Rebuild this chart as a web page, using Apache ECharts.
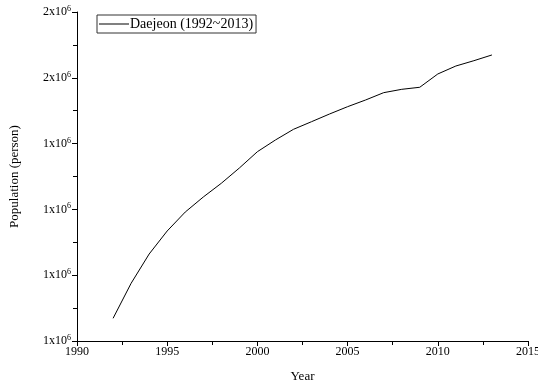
<!DOCTYPE html>
<html><head><meta charset="utf-8">
<script src="https://cdn.jsdelivr.net/npm/echarts@6/dist/echarts.min.js"></script>
<style>html,body{margin:0;padding:0;background:#fff}#c{width:538px;height:387px}</style>
</head><body><div id="c"></div>
<script>
const years = [1992,1993,1994,1995,1996,1997,1998,1999,2000,2001,2002,2003,2004,2005,2006,2007,2008,2009,2010,2011,2012,2013];
const population = [1134500,1187700,1232200,1267200,1296000,1318800,1339700,1362900,1387700,1405500,1421700,1433300,1445000,1456100,1466300,1477400,1482500,1485600,1505800,1517900,1526000,1534700];
const seriesName = 'Daejeon (1992~2013)';
const xTitle = 'Year';
const yTitle = 'Population (person)';

const font = '"Liberation Serif", "Times New Roman", serif';
const chart = echarts.init(document.getElementById('c'));
chart.setOption({
  animation: false,
  backgroundColor: '#fff',
  grid: {left: 77, right: 10, top: 12, bottom: 46, outerBoundsMode: 'none', containLabel: false},
  legend: {
    left: 97, top: 15, orient: 'vertical',
    borderColor: '#333', borderWidth: 1, padding: [2, 3, 2, 2],
    itemWidth: 30, itemHeight: 1, itemGap: 0,
    itemStyle: {color: '#000', borderWidth: 0},
    textStyle: {fontFamily: font, fontSize: 14, color: '#000', padding: [0,0,0,-4]},
    data: [{name: seriesName, icon: 'rect'}]
  },
  xAxis: {
    type: 'value', min: 1990, max: 2015, interval: 5,
    name: xTitle, nameLocation: 'middle', nameGap: 29,
    nameTextStyle: {fontFamily: font, fontSize: 13, color: '#000'},
    axisLine: {lineStyle: {color: '#000', width: 1}},
    axisTick: {show: true, inside: false, length: 5, lineStyle: {color: '#000'}},
    minorTick: {show: true, splitNumber: 2, length: 4, lineStyle: {color: '#000'}},
    splitLine: {show: false},
    axisLabel: {fontFamily: font, fontSize: 12, color: '#000', margin: 5, formatter: v => String(v)}
  },
  yAxis: {
    type: 'value', min: 1100000, max: 1600000, interval: 100000,
    name: yTitle, nameLocation: 'middle', nameGap: 56, nameRotate: 90,
    nameTextStyle: {fontFamily: font, fontSize: 13, color: '#000'},
    axisLine: {show: true, lineStyle: {color: '#000', width: 1}},
    axisTick: {show: true, inside: false, length: 5, lineStyle: {color: '#000'}},
    minorTick: {show: true, splitNumber: 2, length: 4, lineStyle: {color: '#000'}},
    splitLine: {show: false},
    axisLabel: {
      fontFamily: font, fontSize: 12, color: '#000', margin: 6,
      formatter: v => '{a|' + Math.round(v / 1e6 + 1e-9) + 'x10}{s|6}',
      rich: {
        a: {fontFamily: font, fontSize: 12, color: '#000'},
        s: {fontFamily: font, fontSize: 8, color: '#000', verticalAlign: 'top', padding: [0,0,6,0]}
      }
    }
  },
  series: [{
    name: seriesName, type: 'line', symbol: 'none',
    lineStyle: {color: '#000', width: 1},
    itemStyle: {color: '#000'},
    data: years.map((y, i) => [y, population[i]])
  }]
});
</script></body></html>
